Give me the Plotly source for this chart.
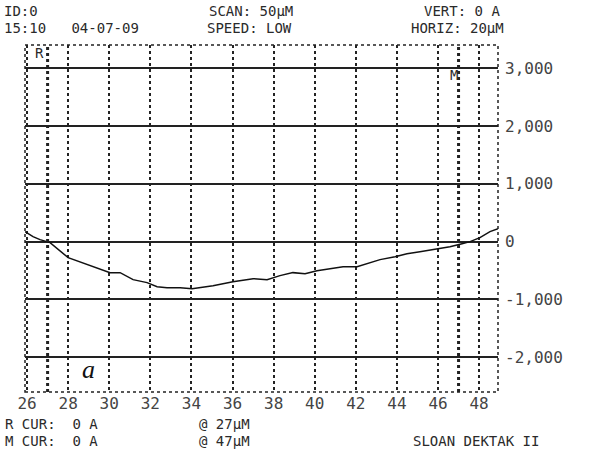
import plotly.graph_objects as go

# Profile trace (scan position in µm, height in Å)
scan_um = [25.9, 26.29, 26.63, 27.12, 28.0, 28.92, 30.04, 30.53, 31.16, 31.84, 32.33, 32.81,
           33.45, 34.03, 34.42, 35.05, 36.02, 37.0, 37.68, 38.31, 38.94, 39.53, 40.11, 40.74,
           41.38, 42.06, 42.55, 43.18, 43.91, 44.49, 45.12, 45.95, 46.58, 47.17, 47.56, 48.04,
           48.53, 48.92]
height_A = [173, 87, 35, -17, -277, -398, -536, -536, -657, -709, -779, -796,
            -796, -813, -796, -761, -692, -640, -657, -588, -536, -554, -502, -467,
            -433, -433, -381, -311, -260, -208, -173, -121, -87, -35, 0, 69,
            173, 225]

x_ticks = [26, 28, 30, 32, 34, 36, 38, 40, 42, 44, 46, 48]
y_ticks = [-2000, -1000, 0, 1000, 2000, 3000]
y_tick_text = ["-2,000", "-1,000", "0", "1,000", "2,000", "3,000"]
cursor_R = 27
cursor_M = 47

W, H = 590, 451
L, R, T, B = 25, 92, 45, 59
PW, PH = W - L - R, H - T - B


def px(xp):
    return (xp - L) / PW


def py(yp):
    return 1 - (yp - T) / PH


MONO = "DejaVu Sans Mono"
TXT = "#2a2a2a"

fig = go.Figure()
fig.add_trace(go.Scatter(x=scan_um, y=height_A, mode="lines",
                         line=dict(color="#111", width=1.5), hoverinfo="skip",
                         showlegend=False))

shapes = [
    dict(type="rect", xref="paper", yref="paper", x0=0, x1=1, y0=0, y1=1,
         line=dict(color="#222", width=1.5, dash="dot")),
    dict(type="line", xref="x", yref="paper", x0=cursor_R, x1=cursor_R, y0=0, y1=1,
         line=dict(color="#222", width=3, dash="dot")),
    dict(type="line", xref="x", yref="paper", x0=cursor_M, x1=cursor_M, y0=0, y1=1,
         line=dict(color="#222", width=3, dash="dot")),
]

texts = [
    ("ID:0", 3, 11),
    ("15:10   04-07-09", 3, 28),
    ("SCAN: 50\u00b5M", 208, 11),
    ("SPEED: LOW", 206, 28),
    ("VERT: 0 A", 423, 11),
    ("HORIZ: 20\u00b5M", 410, 28),
    ("R CUR:  0 A", 4, 424),
    ("M CUR:  0 A", 4, 441),
    ("@ 27\u00b5M", 198, 424),
    ("@ 47\u00b5M", 198, 441),
    ("SLOAN DEKTAK II", 412, 441),
]
annotations = []
for t, xx, yy in texts:
    annotations.append(dict(text=t, xref="paper", yref="paper", x=px(xx), y=py(yy),
                            xanchor="left", yanchor="middle", showarrow=False,
                            borderpad=0,
                            font=dict(family=MONO, size=14, color=TXT)))
annotations.append(dict(text="R", xref="paper", yref="paper", x=px(33), y=py(53),
                        xanchor="left", yanchor="middle", showarrow=False,
                        font=dict(family=MONO, size=14, color=TXT)))
annotations.append(dict(text="M", xref="paper", yref="paper", x=px(448), y=py(75),
                        xanchor="left", yanchor="middle", showarrow=False,
                        font=dict(family=MONO, size=14, color=TXT)))
annotations.append(dict(text="a", xref="paper", yref="paper", x=px(88), y=py(369),
                        xanchor="center", yanchor="middle", showarrow=False,
                        font=dict(family="Liberation Serif", size=26, color="#111",
                                  style="italic")))

fig.update_layout(
    width=W, height=H,
    margin=dict(l=L, r=R, t=T, b=B, pad=0, autoexpand=False),
    paper_bgcolor="white", plot_bgcolor="white",
    shapes=shapes, annotations=annotations,
    xaxis=dict(range=[25.9, 48.92], tickvals=x_ticks, ticktext=[str(v) for v in x_ticks],
               showgrid=True, gridcolor="#222", gridwidth=1.5, griddash="dot",
               zeroline=False, showline=False, ticks="", automargin=False,
               tickfont=dict(family=MONO, size=16, color="#444"), ticklabelstandoff=0),
    yaxis=dict(range=[-2600, 3400], tickvals=y_ticks, ticktext=y_tick_text, side="right",
               showgrid=True, gridcolor="#222", gridwidth=1.5,
               zeroline=False, showline=False, ticks="", automargin=False,
               tickfont=dict(family=MONO, size=16, color="#444"), ticklabelstandoff=6),
)

fig.write_html("out.html", config={"displayModeBar": False},
               post_script="document.body.style.margin='0';")
